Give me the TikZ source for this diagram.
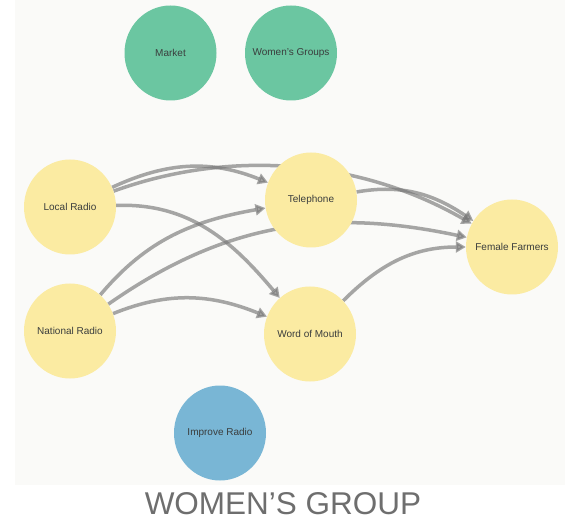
\documentclass[tikz,border=0pt]{standalone}
\usepackage{fontspec}
\setmainfont{Liberation Sans}
\usepackage{xcolor}
\usetikzlibrary{arrows.meta, shapes}

\definecolor{panelbg}{HTML}{FAFAF8}
\definecolor{bubbleyellow}{HTML}{FBEBA2}
\definecolor{bubblegreen}{HTML}{6BC6A1}
\definecolor{bubbleblue}{HTML}{79B6D5}
\definecolor{labeltext}{HTML}{3A3D3D}
\definecolor{linkgray}{HTML}{787878}
\definecolor{captiongray}{HTML}{6E6E6E}

\newcommand{\bubblelabel}[1]{\makebox[0pt]{#1}}

\pgfdeclarelayer{back}
\pgfdeclarelayer{links}
\pgfsetlayers{back,links,main}

\begin{document}
\begin{tikzpicture}[x=1pt, y=1pt,
      every node/.style={font=\fontsize{10}{12}\selectfont, text=labeltext},
      bubble/.style={ellipse, minimum width=92pt, minimum height=95pt, inner sep=0pt},
      channel/.style={bubble, fill=bubbleyellow},
      group/.style={bubble, fill=bubblegreen},
      action/.style={bubble, fill=bubbleblue},
      link/.style={draw=linkgray, opacity=0.65, line width=3.5pt,
        -{Triangle[length=10pt, width=11pt]}}]
    \useasboundingbox (0,0) rectangle (565,520);
    \begin{pgfonlayer}{back}
      \fill[panelbg] (15,35) rectangle (565,520);
    \end{pgfonlayer}

    \node[group] (market) at (170.5,467) {\bubblelabel{Market}};
    \node[group] (womengroups) at (291,467) {\bubblelabel{Women's Groups}};
    \node[channel] (localradio) at (70,313) {\bubblelabel{Local Radio}};
    \node[channel] (telephone) at (311,320) {\bubblelabel{Telephone}};
    \node[channel] (farmers) at (512,273) {\bubblelabel{Female Farmers}};
    \node[channel] (nationalradio) at (70,189) {\bubblelabel{National Radio}};
    \node[channel] (wordofmouth) at (310,186) {\bubblelabel{Word of Mouth}};
    \node[action] (improveradio) at (220,87) {\bubblelabel{Improve Radio}};

    \node[font=\fontsize{31.5}{36}\selectfont, text=captiongray, inner sep=0pt, anchor=base] (caption) at (283,5.5) {WOMEN’S GROUP};

    \begin{pgfonlayer}{links}
      \draw[link] (localradio) to[out=25, in=158] (telephone);
      \draw[link] (localradio) to[out=20, in=150, looseness=0.9] (farmers);
      \draw[link] (localradio) to[out=2, in=130] (wordofmouth);
      \draw[link] (nationalradio) to[out=50, in=190] (telephone);
      \draw[link] (nationalradio) to[out=35, in=168] (farmers);
      \draw[link] (nationalradio) to[out=22, in=158] (wordofmouth);
      \draw[link] (telephone) to[out=10, in=146] (farmers);
      \draw[link] (wordofmouth) to[out=45, in=180] (farmers);
    \end{pgfonlayer}
\end{tikzpicture}
\end{document}
